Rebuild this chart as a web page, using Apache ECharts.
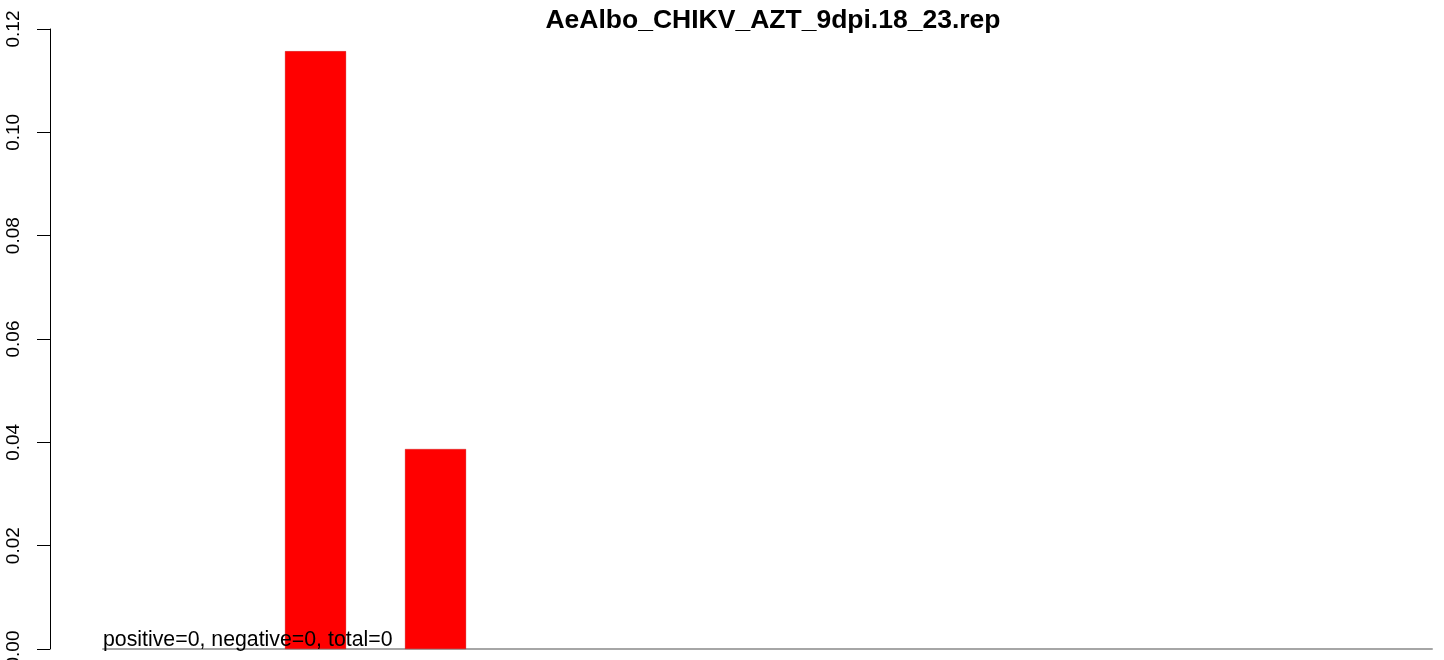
<!DOCTYPE html>
<html>
<head>
<meta charset="utf-8">
<script src="https://cdn.jsdelivr.net/npm/echarts@6/dist/echarts.min.js"></script>
<style>
html,body{margin:0;padding:0;background:#fff;}
#c{width:1444px;height:660px;}
</style>
</head>
<body>
<div id="c"></div>
<script>
// Data
const titleText = "AeAlbo_CHIKV_AZT_9dpi.18_23.rep";
const barPositions = [2, 3];          // bar centre positions on the x scale
const barValues = [0.1157, 0.0387];   // bar heights
const yTicks = [0, 0.02, 0.04, 0.06, 0.08, 0.10, 0.12];
const xRange = [0.229, 11.304];
const noteText = "positive=0, negative=0, total=0";

const chart = echarts.init(document.getElementById('c'), null, {renderer: 'canvas'});
const FONT = 'Liberation Sans, Arial, sans-serif';
chart.setOption({
  animation: false,
  backgroundColor: '#ffffff',
  title: {
    text: titleText,
    left: 768, textAlign: 'center', top: 2,
    textStyle: {fontFamily: FONT, fontWeight: 'bold', fontSize: 26.5, color: '#000'}
  },
  grid: {left: 103, right: 12, top: 29, bottom: 11, containLabel: false, outerBoundsMode: 'none'},
  xAxis: {
    type: 'value', min: xRange[0], max: xRange[1],
    axisLine: {show: true, lineStyle: {color: '#a6a6a6', width: 2}},
    axisTick: {show: false}, axisLabel: {show: false}, splitLine: {show: false}
  },
  yAxis: {
    type: 'value', min: yTicks[0], max: yTicks[yTicks.length - 1], interval: 0.02,
    offset: 53,
    axisLine: {show: true, lineStyle: {color: '#000', width: 1}},
    axisTick: {show: true, inside: false, length: 13, lineStyle: {color: '#000'}},
    axisLabel: {
      show: true, rotate: 90, margin: 27,
      fontFamily: FONT, fontSize: 19, color: '#000',
      formatter: v => v.toFixed(2)
    },
    splitLine: {show: false}
  },
  series: [{
    type: 'bar',
    data: barPositions.map((x, i) => [x, barValues[i]]),
    barWidth: 61,
    itemStyle: {color: '#ff0000', borderColor: '#b00000', borderWidth: 0.3},
    silent: true
  }],
  graphic: [{
    type: 'text', left: 103, top: 630, z: 100,
    style: {text: noteText, fontFamily: FONT, fontSize: 21.3, fill: '#000'}
  }]
});
</script>
</body>
</html>
